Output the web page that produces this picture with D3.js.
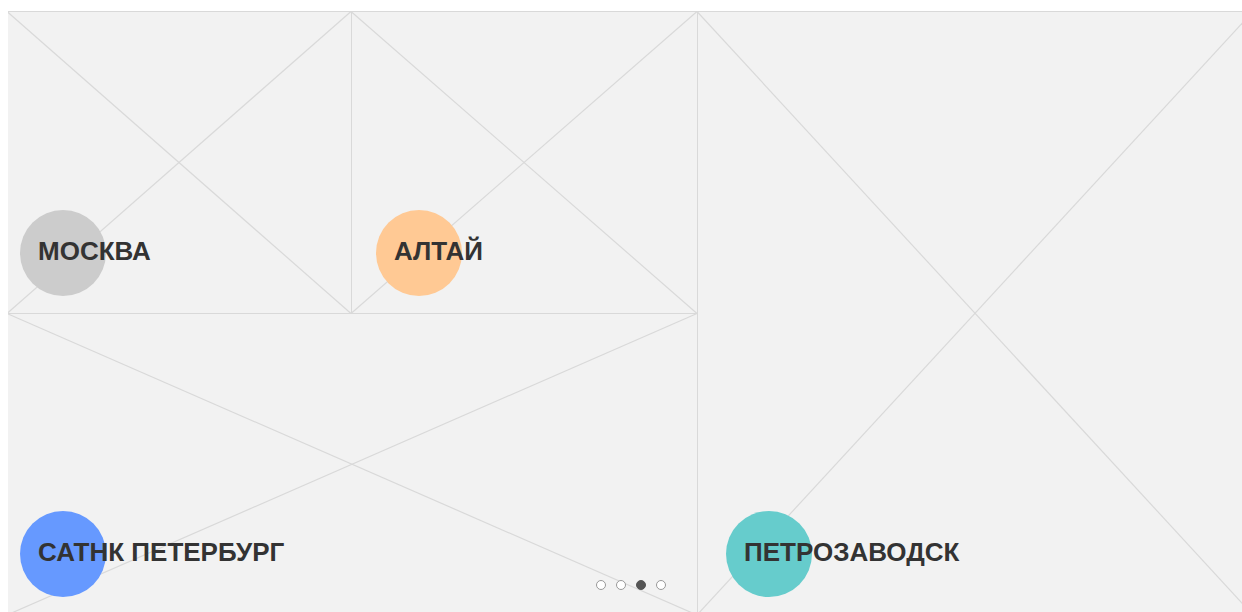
<!DOCTYPE html>
<html>
<head>
  <meta charset="utf-8">
  <title>Cities</title>
  <style>
    body { margin: 0; background: #fff; font-family: 'Liberation Sans', Arial, sans-serif; }
    .tile rect { fill: #f2f2f2; stroke: #d9d9d9; stroke-width: 1px; }
    .tile line { stroke: #d9d9d9; stroke-width: 1.2px; }
    .label { font-weight: bold; font-size: 26px; fill: #333; }
  </style>
</head>
<body>
  <div id="chart"></div>
  <script src="https://d3js.org/d3.v7.min.js"></script>
  <script>
    // data
    var cities = ["МОСКВА", "АЛТАЙ", "САТНК ПЕТЕРБУРГ", "ПЕТРОЗАВОДСК"];
    var cityColors = ["#cccccc", "#ffc994", "#6699ff", "#66cccc"];
    var pages = [0, 1, 2, 3];
    var activePage = 2;

    var width = 1242, height = 612;

    // grid edges (column / row boundaries)
    var colEdges = [7, 351, 697, 1253];
    var rowEdges = [11.5, 313.5, 615];
    // tile placement: [col0, col1, row0, row1, circle offset from tile left]
    var layout = [
      [0, 1, 0, 1, 56],
      [1, 2, 0, 1, 68],
      [0, 2, 1, 2, 56],
      [2, 3, 0, 2, 72]
    ];

    var svg = d3.select("#chart").append("svg")
      .attr("width", width)
      .attr("height", height);

    var tiles = cities.map(function(c, i) {
      var l = layout[i];
      return {
        name: c, color: cityColors[i],
        x0: colEdges[l[0]], x1: colEdges[l[1]],
        y0: rowEdges[l[2]], y1: rowEdges[l[3]],
        off: l[4]
      };
    });

    var g = svg.selectAll("g.tile")
      .data(tiles)
      .enter().append("g")
      .attr("class", "tile");

    g.append("rect")
      .attr("x", d => d.x0 + 0.5)
      .attr("y", d => d.y0)
      .attr("width", d => d.x1 - d.x0)
      .attr("height", d => d.y1 - d.y0);

    g.append("line")
      .attr("x1", d => d.x0).attr("y1", d => d.y0)
      .attr("x2", d => d.x1).attr("y2", d => d.y1);
    g.append("line")
      .attr("x1", d => d.x0).attr("y1", d => d.y1)
      .attr("x2", d => d.x1).attr("y2", d => d.y0);

    // hide the left border so only the fill shows there
    svg.append("rect")
      .attr("x", 0).attr("y", 0)
      .attr("width", colEdges[0] + 1).attr("height", height)
      .attr("fill", "#fff");

    // labels sit near the bottom of each tile
    var labels = svg.selectAll("g.lbl")
      .data(tiles)
      .enter().append("g")
      .attr("class", "lbl")
      .attr("transform", d => "translate(" + (d.x0 + d.off) + "," + (Math.round(d.y1) - 61) + ")");

    labels.append("circle")
      .attr("r", 43)
      .attr("fill", d => d.color);

    labels.append("text")
      .attr("class", "label")
      .attr("x", -25)
      .attr("y", 7)
      .text(d => d.name);

    // pager dots
    var dotX = d3.scaleLinear().domain([0, 3]).range([601, 661]);
    svg.selectAll("circle.dot")
      .data(pages)
      .enter().append("circle")
      .attr("class", "dot")
      .attr("cx", d => dotX(d))
      .attr("cy", 585)
      .attr("r", 4.5)
      .attr("fill", d => d === activePage ? "#555" : "#fff")
      .attr("stroke", d => d === activePage ? "#555" : "#999")
      .attr("stroke-width", 1);
  </script>
</body>
</html>
